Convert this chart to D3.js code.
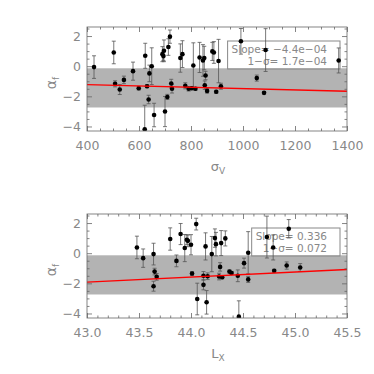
<!DOCTYPE html>
<html>
<head>
<meta charset="utf-8">
<script src="https://cdn.jsdelivr.net/npm/d3@7"></script>
<style>
  body { margin: 0; background: #fff; }
  text { font-family: "DejaVu Sans", sans-serif; }
</style>
</head>
<body>
<svg id="chart" width="374" height="374"></svg>
<script>
// top panel: alpha_f vs sigma_V
const sigmaV = [427, 503, 508, 526, 542, 577, 599, 624, 622, 631, 637, 640, 649, 658, 690, 694, 696, 700, 709, 713, 719, 724, 727, 759, 767, 778, 791, 803, 809, 817, 833, 846, 851, 853, 856, 862, 882, 888, 897, 906, 915, 992, 1053, 1081, 1087, 1368];
const alphaV = [-0.06, 0.91, -1.17, -1.55, -0.91, -0.33, -1.46, 0.69, -4.19, -1.33, -2.21, -0.48, 0.0, -3.24, 0.80, 0.67, 1.02, -3.01, -2.04, 1.27, 1.96, -1.15, -1.50, 0.54, 0.80, -1.30, -1.50, -1.46, 0.05, -1.50, 0.58, 0.38, 0.54, -1.26, -0.62, -1.64, 0.98, 0.91, -1.70, 0.34, -1.33, 1.65, -0.79, -1.77, 1.07, 0.38];
const errV = [0.75, 0.75, 0.20, 0.33, 0.25, 0.60, 0.12, 0.83, 1.60, 0.10, 0.28, 0.55, 1.22, 0.78, 0.50, 0.30, 0.72, 1.00, 0.17, 0.55, 0.44, 0.28, 0.28, 0.94, 0.89, 0.20, 0.15, 0.10, 1.50, 0.10, 1.00, 1.05, 0.78, 0.28, 0.28, 0.15, 0.60, 0.72, 0.10, 1.44, 0.20, 0.85, 0.20, 0.08, 1.42, 0.83];

// bottom panel: alpha_f vs L_X
const lumX = [43.48, 43.54, 43.64, 43.64, 43.65, 43.67, 43.80, 43.86, 43.90, 43.94, 43.96, 43.97, 44.00, 44.01, 44.05, 44.06, 44.12, 44.12, 44.14, 44.15, 44.16, 44.20, 44.23, 44.24, 44.27, 44.28, 44.29, 44.30, 44.33, 44.37, 44.39, 44.45, 44.46, 44.51, 44.55, 44.55, 44.73, 44.79, 44.80, 44.92, 44.94, 45.05];
const alphaL = [0.38, -0.33, -0.06, -2.19, -1.22, -1.57, 0.94, -0.51, 1.27, 0.34, 0.89, 0.82, 0.56, -1.35, 1.93, -3.04, -2.10, -1.50, 0.45, -3.26, -1.53, -0.06, 1.00, 0.60, -1.55, -0.91, 0.67, -1.60, 0.98, -1.22, -1.31, -1.50, -4.21, -0.66, 0.03, -1.74, 1.07, 0.38, -1.17, -0.82, 1.62, -0.95];
const errL = [0.75, 0.61, 0.72, 0.33, 0.22, 0.22, 0.74, 0.39, 0.70, 0.90, 0.33, 0.39, 0.67, 0.13, 0.39, 1.05, 0.33, 0.28, 0.90, 0.78, 0.22, 1.17, 0.61, 0.78, 0.22, 0.28, 0.83, 0.10, 0.50, 0.10, 0.10, 0.39, 1.05, 0.33, 1.40, 0.20, 1.39, 0.83, 0.10, 0.24, 0.61, 0.26];

// fits and scatter band (mean +/- 1 sigma)
const fitSlope = [-4.4e-4, 0.336];
const fitIntercept = [-1.044, -16.368];
const slopeText = ["−4.4e−04", "0.336"];
const sigmaText = ["1.7e−04", "0.072"];
const band = [-2.74, -0.14];

const yTicks = [-4, -2, 0, 2];
const xTicksV = [400, 600, 800, 1000, 1200, 1400];
const xTicksL = [43.0, 43.5, 44.0, 44.5, 45.0, 45.5];

const svg = d3.select("#chart");
const left = 87, right = 347;
const frameCol = "#666", labCol = "#888";

function drawPanel(top, bottom, xs, ys, es, xDomain, xTicks, xMinor, xFmt, k, xTitle, xSub) {
    const g = svg.append("g");
    const x = d3.scaleLinear().domain(xDomain).range([left, right]);
    const y = d3.scaleLinear().domain([-4.3, 2.6]).range([bottom, top]);
    const yMinor = d3.range(-8, 6).map(d => d / 2).filter(d => !yTicks.includes(d));

    // gray band
    g.append("rect")
        .attr("x", left).attr("width", right - left)
        .attr("y", y(band[1])).attr("height", y(band[0]) - y(band[1]))
        .attr("fill", "#b3b3b3");

    // legend box
    const leg = g.append("g");
    const t1 = leg.append("text").attr("x", 327).attr("y", top + 26)
        .attr("text-anchor", "end").attr("font-size", 10.5).attr("fill", labCol)
        .text("Slope= " + slopeText[k]);
    leg.append("text").attr("x", 327).attr("y", top + 38)
        .attr("text-anchor", "end").attr("font-size", 10.5).attr("fill", labCol)
        .text("1−σ= " + sigmaText[k]);
    const bb = t1.node().getBBox();
    leg.insert("rect", "text")
        .attr("x", bb.x - 4).attr("y", top + 14)
        .attr("width", 340 - bb.x + 4).attr("height", 28)
        .attr("fill", "none").attr("stroke", labCol).attr("stroke-width", 1);

    // error bars and points
    const clip = "clip" + k;
    svg.append("clipPath").attr("id", clip).append("rect")
        .attr("x", left).attr("y", top).attr("width", right - left).attr("height", bottom - top);
    const pts = g.append("g").attr("clip-path", `url(#${clip})`);
    const idx = d3.range(xs.length);
    pts.selectAll("path.err").data(idx).join("path")
        .attr("class", "err")
        .attr("d", i => {
            const cx = x(xs[i]), y0 = y(ys[i] - es[i]), y1 = y(ys[i] + es[i]);
            return `M${cx},${y0}V${y1}M${cx - 2},${y0}H${cx + 2}M${cx - 2},${y1}H${cx + 2}`;
        })
        .attr("stroke", "#555").attr("stroke-width", 0.8).attr("fill", "none");
    pts.selectAll("circle").data(idx).join("circle")
        .attr("cx", i => x(xs[i])).attr("cy", i => y(ys[i]))
        .attr("r", 2.3).attr("fill", "#000");

    // fit line
    g.append("line")
        .attr("x1", x(xDomain[0])).attr("y1", y(fitIntercept[k] + fitSlope[k] * xDomain[0]))
        .attr("x2", x(xDomain[1])).attr("y2", y(fitIntercept[k] + fitSlope[k] * xDomain[1]))
        .attr("stroke", "#f00").attr("stroke-width", 1.4);

    // axes, ticks pointing inward on all sides
    const styleAxis = a => a.call(s => s.select(".domain").remove())
        .call(s => s.selectAll(".tick line").attr("stroke", frameCol).attr("stroke-width", 0.8))
        .call(s => s.selectAll(".tick text").attr("fill", labCol).attr("font-size", 12.5)
            .attr("font-family", "DejaVu Sans"));

    styleAxis(g.append("g").attr("transform", `translate(0,${bottom})`)
        .call(d3.axisBottom(x).tickValues(xTicks).tickFormat(xFmt).tickSizeInner(-5).tickSizeOuter(0).tickPadding(10)));
    styleAxis(g.append("g").attr("transform", `translate(0,${bottom})`)
        .call(d3.axisBottom(x).tickValues(xMinor).tickFormat("").tickSizeInner(-2.5).tickSizeOuter(0)));
    styleAxis(g.append("g").attr("transform", `translate(0,${top})`)
        .call(d3.axisTop(x).tickValues(xTicks).tickFormat("").tickSizeInner(-5).tickSizeOuter(0)));
    styleAxis(g.append("g").attr("transform", `translate(0,${top})`)
        .call(d3.axisTop(x).tickValues(xMinor).tickFormat("").tickSizeInner(-2.5).tickSizeOuter(0)));
    styleAxis(g.append("g").attr("transform", `translate(${left},0)`)
        .call(d3.axisLeft(y).tickValues(yTicks).tickFormat(d3.format("d")).tickSizeInner(-5).tickSizeOuter(0).tickPadding(6)));
    styleAxis(g.append("g").attr("transform", `translate(${left},0)`)
        .call(d3.axisLeft(y).tickValues(yMinor).tickFormat("").tickSizeInner(-2.5).tickSizeOuter(0)));
    styleAxis(g.append("g").attr("transform", `translate(${right},0)`)
        .call(d3.axisRight(y).tickValues(yTicks).tickFormat("").tickSizeInner(-5).tickSizeOuter(0)));
    styleAxis(g.append("g").attr("transform", `translate(${right},0)`)
        .call(d3.axisRight(y).tickValues(yMinor).tickFormat("").tickSizeInner(-2.5).tickSizeOuter(0)));

    g.append("rect")
        .attr("x", left).attr("y", top).attr("width", right - left).attr("height", bottom - top)
        .attr("fill", "none").attr("stroke", frameCol).attr("stroke-width", 0.8);

    // axis titles
    const xt = g.append("text").attr("x", 218).attr("y", bottom + 40)
        .attr("text-anchor", "middle").attr("font-size", 13).attr("fill", labCol);
    xt.append("tspan").text(xTitle);
    xt.append("tspan").attr("dy", 3).attr("font-size", 9).text(xSub);

    const yt = g.append("text")
        .attr("transform", `translate(56,${(top + bottom) / 2 + 4}) rotate(-90)`)
        .attr("text-anchor", "middle").attr("font-size", 14).attr("fill", labCol);
    yt.append("tspan").text("α");
    yt.append("tspan").attr("dy", 3).attr("font-size", 9).text("f");
}

drawPanel(27, 131, sigmaV, alphaV, errV, [400, 1400], xTicksV,
    d3.range(400, 1401, 50).filter(d => !xTicksV.includes(d)), d3.format("d"), 0, "σ", "V");
drawPanel(214, 318, lumX, alphaL, errL, [43, 45.5], xTicksL,
    d3.range(430, 456, 1).map(d => d / 10).filter(d => !xTicksL.includes(d)), d3.format(".1f"), 1, "L", "X");
</script>
</body>
</html>
